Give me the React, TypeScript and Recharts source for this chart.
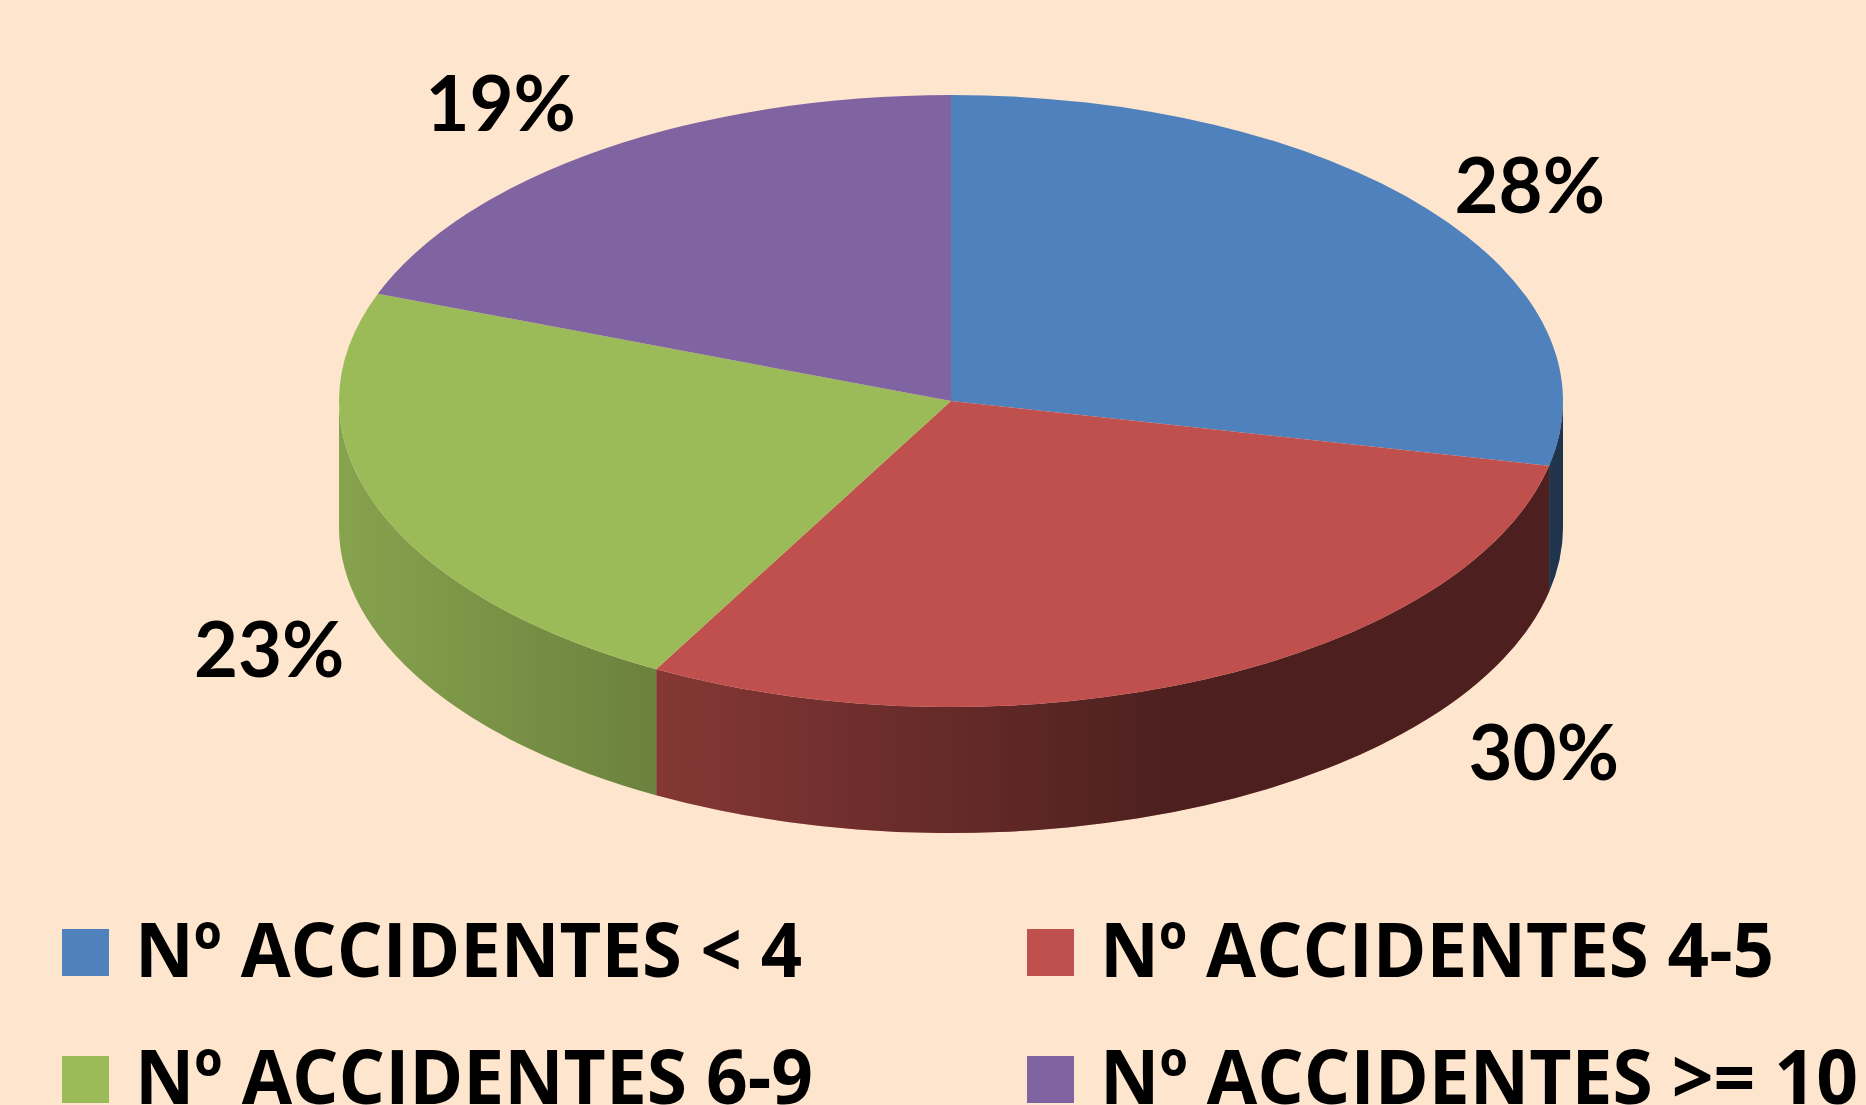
import React from 'react';
import {Cell, Legend, Pie, PieChart} from 'recharts';

// accident groups and their share of the total (read from the slice edges)
const categories = ['Nº ACCIDENTES < 4', 'Nº ACCIDENTES 4-5', 'Nº ACCIDENTES 6-9', 'Nº ACCIDENTES >= 10'];
const shares = [28.4, 29.6, 22.7, 19.3];

const COLORS = ['#4F81BD', '#C0504D', '#9BBB59', '#8064A2'];
const BG = '#FEE5CE';

const W = 1866;
const H = 1105;
const TILT = 0.5;     // vertical squash of the disc
const DEPTH = 126;    // thickness of the disc
const FONT = 'Lato, "Open Sans", sans-serif';
const LEGEND_FONT = '"Open Sans", "Noto Sans", sans-serif';
const FS = 76;
const RAD = Math.PI / 180;

// hand placement of the percentage labels (Excel "best fit")
const labelNudge = [[40, 27], [306, -126], [-33, -12], [-56, 20]];
// widths of the legend texts (Calibri in the original)
const legendTextWidth = [667, 674, 678, 758];

const data = categories.map((name, i) => ({name, value: shares[i]}));

const Slice3D = (props: any) => {
    const {cx, cy, outerRadius, startAngle, endAngle, midAngle, fill, percent, index} = props;
    const rx = outerRadius;
    const ry = outerRadius * TILT;
    const at = (t: number, dy = 0) =>
        `${cx + rx * Math.cos(t * RAD)},${cy + ry * Math.sin(t * RAD) + dy}`;

    const t1 = -startAngle;
    const t2 = -endAngle;

    // outer wall, only the part facing the viewer
    const walls: string[] = [];
    for (let k = -1; k <= 1; k++) {
        const lo = Math.max(t1, 360 * k);
        const hi = Math.min(t2, 360 * k + 180);
        if (hi > lo) {
            walls.push(
                `M${at(lo)}A${rx},${ry} 0 0 1 ${at(hi)}L${at(hi, DEPTH)}A${rx},${ry} 0 0 0 ${at(lo, DEPTH)}Z`
            );
        }
    }
    const large = t2 - t1 > 180 ? 1 : 0;
    const top = `M${cx},${cy}L${at(t1)}A${rx},${ry} 0 ${large} 1 ${at(t2)}Z`;

    const tm = -midAngle * RAD;
    const s = Math.sin(tm);
    const [nx, ny] = labelNudge[index] || [0, 0];
    const lx = cx + (rx + 80) * Math.cos(tm) + nx;
    const ly = cy + (ry + 80) * s + (s > 0 ? DEPTH : 0) + ny;

    return (
        <g>
            {walls.map((d, i) => (
                <g key={i}>
                    <path d={d} fill={fill} stroke="none"/>
                    <path d={d} fill="url(#wallShade)" stroke="none"/>
                </g>
            ))}
            <path d={top} fill={fill} stroke="none"/>
            <text
                x={lx}
                y={ly + FS * 0.36}
                textAnchor="middle"
                fontFamily={FONT}
                fontWeight={700}
                fontSize={FS}
                fill="#000"
            >
                {`${Math.round(percent * 100)}%`}
            </text>
        </g>
    );
};

const renderLegend = () => (
    <svg width={W} height={225} style={{display: 'block'}}>
        {categories.map((name, i) => {
            const x = 62 + (i % 2) * 965;
            const y = 49 + Math.floor(i / 2) * 127;
            return (
                <g key={name}>
                    <rect x={x} y={y} width={47} height={47} fill={COLORS[i]}/>
                    <text
                        x={x + 73}
                        y={y + 48}
                        fontFamily={LEGEND_FONT}
                        fontWeight={700}
                        fontSize={FS}
                        textLength={legendTextWidth[i]}
                        lengthAdjust="spacingAndGlyphs"
                        fill="#000"
                    >
                        {name}
                    </text>
                </g>
            );
        })}
    </svg>
);

export default function App() {
    return (
        <div style={{position: 'absolute', left: 0, top: 0, width: W, height: H, background: BG, overflow: 'hidden'}}>
            <PieChart width={W} height={H} margin={{top: 0, right: 0, bottom: 0, left: 0}}>
                <defs>
                    <linearGradient id="wallShade" gradientUnits="userSpaceOnUse" x1={339} y1={0} x2={1171} y2={0}>
                        <stop offset="0" stopColor="#000" stopOpacity={0.13}/>
                        <stop offset="1" stopColor="#000" stopOpacity={0.6}/>
                    </linearGradient>
                </defs>
                <Pie
                    data={data}
                    dataKey="value"
                    nameKey="name"
                    cx={951}
                    cy={401}
                    outerRadius={612}
                    startAngle={90}
                    endAngle={-270}
                    stroke="none"
                    isAnimationActive={false}
                    labelLine={false}
                    label={Slice3D}
                >
                    {data.map((entry, i) => (
                        <Cell key={entry.name} fill={COLORS[i]} fillOpacity={0}/>
                    ))}
                </Pie>
                <Legend
                    content={renderLegend}
                    wrapperStyle={{position: 'absolute', left: 0, top: 880, width: W, height: 225}}
                />
            </PieChart>
        </div>
    );
}
